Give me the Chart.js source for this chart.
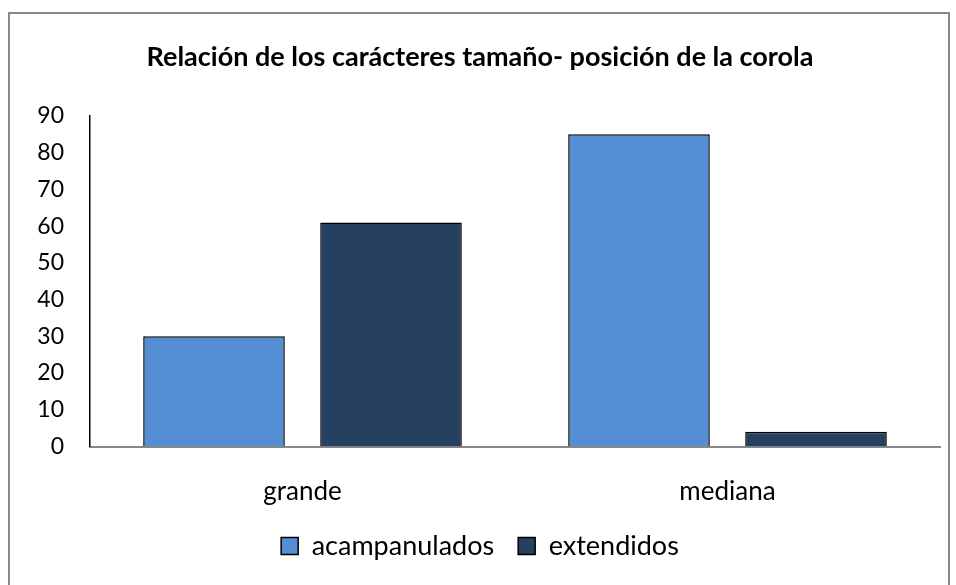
<!DOCTYPE html>
<html lang="es">
<head>
    <meta charset="UTF-8">
    <title>Relación de los carácteres tamaño- posición de la corola</title>
    <script src="https://cdn.jsdelivr.net/npm/chart.js"></script>
    <style>
        body {
            margin: 0;
            background: #fff;
        }
        #frame {
            position: absolute;
            left: 8px;
            top: 12px;
            width: 942px;
            height: 600px;
            border: 2px solid #888;
            box-sizing: border-box;
        }
        #wrap {
            position: absolute;
            left: 0;
            top: 0;
            width: 956px;
            height: 585px;
        }
    </style>
</head>
<body>

<div id="frame"></div>
<div id="wrap"><canvas id="corolaChart"></canvas></div>

<script>
    // data
    const categories = ['grande', 'mediana'];
    const acampanulados = [30, 85];
    const extendidos = [61, 4];
    const yTicks = [0, 10, 20, 30, 40, 50, 60, 70, 80, 90];

    const fontFamily = 'Lato, "Open Sans", sans-serif';

    const ctx = document.getElementById('corolaChart').getContext('2d');
    const corolaChart = new Chart(ctx, {
        type: 'bar',
        data: {
            labels: categories,
            datasets: [{
                label: 'acampanulados',
                data: acampanulados,
                backgroundColor: '#558ed5',
                borderColor: '#000',
                borderWidth: 1.5
            }, {
                label: 'extendidos',
                data: extendidos,
                backgroundColor: '#254061',
                borderColor: '#000',
                borderWidth: 1.5
            }]
        },
        options: {
            responsive: true,
            maintainAspectRatio: false,
            animation: false,
            categoryPercentage: 0.833,
            barPercentage: 0.8,
            layout: {
                padding: { left: 20, right: 16, top: 41, bottom: 15.5 }
            },
            plugins: {
                title: {
                    display: true,
                    text: 'Relación de los carácteres tamaño- posición de la corola',
                    color: '#000',
                    font: { family: fontFamily, size: 27, weight: 'bold' },
                    padding: { top: 0, bottom: 42.6 }
                },
                legend: {
                    position: 'bottom',
                    labels: {
                        color: '#000',
                        font: { family: fontFamily, size: 27 },
                        boxWidth: 17,
                        boxHeight: 17,
                        padding: 24
                    }
                },
                tooltip: { enabled: false }
            },
            scales: {
                x: {
                    grid: { display: false },
                    border: { display: true, color: '#888', width: 2 },
                    ticks: {
                        color: '#000',
                        font: { family: fontFamily, size: 26 },
                        padding: 22
                    },
                    afterFit: (axis) => {
                        axis.height = 62;
                    }
                },
                y: {
                    min: 0,
                    max: 90,
                    afterBuildTicks: (axis) => {
                        axis.ticks = yTicks.map(v => ({ value: v }));
                    },
                    grid: { display: false },
                    border: { display: true, color: '#000', width: 1.5 },
                    ticks: {
                        color: '#000',
                        font: { family: fontFamily, size: 23 },
                        padding: 18
                    },
                    afterFit: (axis) => {
                        axis.width = 70;
                    }
                }
            }
        }
    });
</script>

</body>
</html>
